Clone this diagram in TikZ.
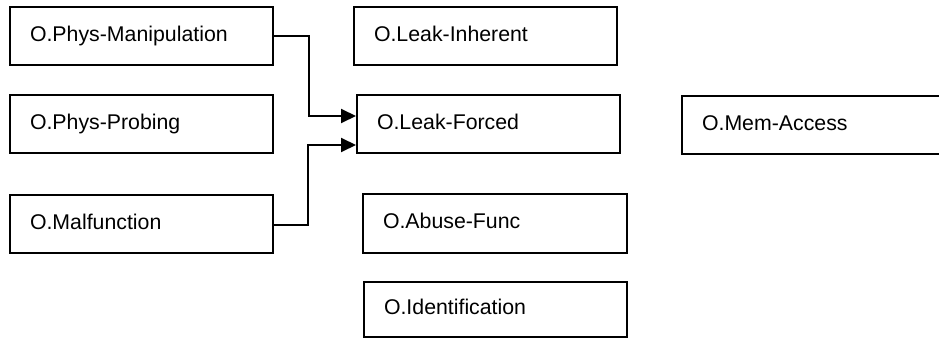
\documentclass[tikz,border=0pt]{standalone}
\usepackage{fontspec}
\setmainfont{Liberation Sans}
\usetikzlibrary{arrows.meta}
\begin{document}
\begin{tikzpicture}[x=1pt,y=-1pt,
  box/.style={draw=black,line width=2pt,rectangle,minimum height=58pt,
    inner xsep=20pt,inner ysep=0pt,align=left,font=\fontsize{21.3}{24}\selectfont,
    text height=15.5pt,text depth=5pt,anchor=center},
  conn/.style={draw=black,line width=2pt,-{Triangle[length=15pt,width=14pt]}}]
\useasboundingbox (0,0) rectangle (939,339);
\clip (0,0) rectangle (939,339);
\fill[white] (0,0) rectangle (939,339);
\node[box,minimum width=263pt,text width=223pt] (pm) at (141.5,36) {O.Phys-Manipulation};
\node[box,minimum width=263pt,text width=223pt] (pp) at (141.5,124) {O.Phys-Probing};
\node[box,minimum width=263pt,text width=223pt] (mf) at (141.5,224) {O.Malfunction};
\node[box,minimum width=263pt,text width=223pt] (li) at (485.5,36) {O.Leak-Inherent};
\node[box,minimum width=263pt,text width=223pt] (lf) at (488.5,124.5) {O.Leak-Forced};
\node[box,minimum width=278pt,text width=238pt] (ma) at (821,125) {O.Mem-Access};
\node[box,minimum width=264pt,text width=224pt] (af) at (495,223.5) {O.Abuse-Func};
\node[box,minimum width=263pt,text width=223pt,minimum height=55pt] (id) at (495.5,309.5) {O.Identification};
\coordinate (j1) at (309,36);
\coordinate (j2) at (308,225);
\draw[conn] (pm.east |- j1) -| (309,116) -- (lf.west |- 0,116);
\draw[conn] (mf.east |- j2) -| (308,145) -- (lf.west |- 0,145);
\end{tikzpicture}
\end{document}
